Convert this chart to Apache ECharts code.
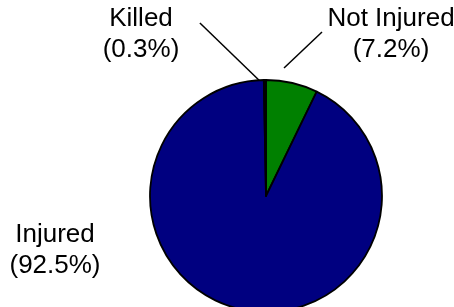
<!DOCTYPE html>
<html>
<head>
<meta charset="utf-8">
<script src="https://cdn.jsdelivr.net/npm/echarts@6/dist/echarts.min.js"></script>
<style>
  html, body { margin: 0; padding: 0; background: #fff; }
  #chart { width: 454px; height: 307px; }
</style>
</head>
<body>
<div id="chart"></div>
<script>
// slices, clockwise from 12 o'clock
const categories = ['Not Injured', 'Injured', 'Killed'];
const percents = [7.2, 92.5, 0.3];
const sliceColors = ['#008000', '#000080', '#000000'];

// where each label sits, and the leader line offsets (from / to, relative to the slice edge point)
const labelPos = [[391, 34], [55, 250], [141, 34]];
const leaderLines = [
  [[-8, -15], [30, -51]],   // Not Injured
  null,                     // Injured: no line
  [[-4, 2], [-65, -57]]     // Killed
];

const chart = echarts.init(document.getElementById('chart'));

chart.setOption({
  animation: false,
  series: [{
    type: 'pie',
    center: [266, 196],
    radius: 116,
    startAngle: 90,
    clockwise: true,
    data: categories.map((name, i) => ({
      name,
      value: percents[i],
      itemStyle: { color: sliceColors[i] }
    })),
    itemStyle: { borderColor: '#000', borderWidth: 1.8 },
    label: {
      show: true,
      position: 'outside',
      formatter: (p) => p.name + '\n(' + p.value.toFixed(1) + '%)',
      fontFamily: 'Liberation Sans, Arial, sans-serif',
      fontSize: 26,
      lineHeight: 31,
      color: '#000',
      align: 'center',
      overflow: 'none',
      width: 200
    },
    labelLine: {
      show: true,
      lineStyle: { color: '#000', width: 1.5 }
    },
    labelLayout: (params) => {
      const i = params.dataIndex;
      const out = {
        x: labelPos[i][0],
        y: labelPos[i][1],
        align: 'center',
        verticalAlign: 'middle'
      };
      const edge = params.labelLinePoints ? params.labelLinePoints[0] : null;
      if (leaderLines[i] && edge) {
        const a = leaderLines[i][0], b = leaderLines[i][1];
        out.labelLinePoints = [
          [edge[0] + a[0], edge[1] + a[1]],
          [edge[0] + b[0], edge[1] + b[1]],
          [edge[0] + b[0], edge[1] + b[1]]
        ];
      } else {
        out.labelLinePoints = [[0, 0], [0, 0], [0, 0]];
      }
      return out;
    },
    emphasis: { disabled: true }
  }]
});
</script>
</body>
</html>
